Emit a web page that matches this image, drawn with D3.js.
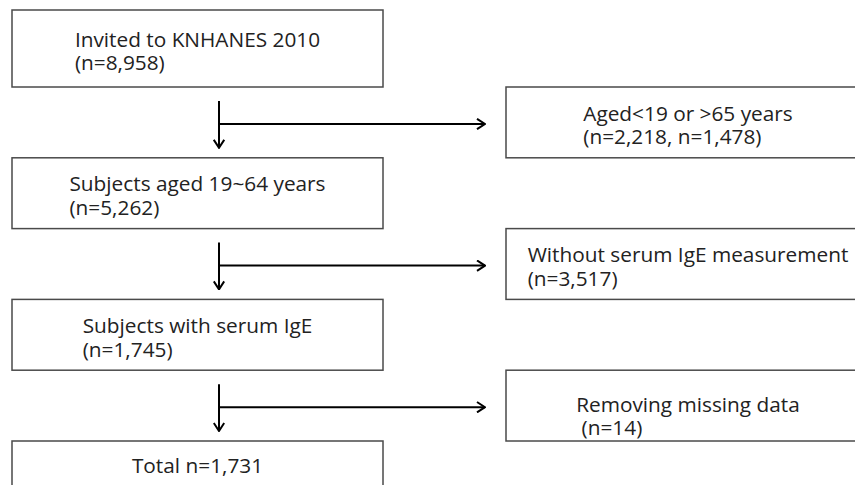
<!DOCTYPE html>
<html>
<head>
<meta charset="utf-8">
<script src="https://cdn.jsdelivr.net/npm/d3@7"></script>
<style>
  body { margin: 0; background: #fff; }
  svg { display: block; }
</style>
</head>
<body>
<div id="chart-area"></div>
<script>
// flow steps (left column) and exclusions (right column)
var steps = [
    ["Invited to KNHANES 2010", "(n=8,958)"],
    ["Subjects aged 19~64 years", "(n=5,262)"],
    ["Subjects with serum IgE", "(n=1,745)"],
    ["Total n=1,731"]
];
var excluded = [
    ["Aged<19 or >65 years", "(n=2,218, n=1,478)"],
    ["Without serum IgE measurement", "(n=3,517)"],
    ["Removing missing data", " (n=14)"]
];

var width = 855, height = 485;
var margins = { left: 12, top: 10 };

var svg = d3.select("#chart-area")
    .append("svg")
    .attr("width", width)
    .attr("height", height);

// slot 0..6 alternate left / right boxes going down
var y = d3.scaleLinear().domain([1, 6]).range([87, 441]);
var step = y(1) - y(0);

var leftX = d3.scaleLinear().domain([0, 1]).range([margins.left, 383]);
var rightX = d3.scaleLinear().domain([0, 1]).range([506, 870]);
var arrowX = 219, arrowEnd = 485;

var defs = svg.append("defs");
defs.append("marker")
    .attr("id", "head")
    .attr("viewBox", "0 0 10 12")
    .attr("refX", 9)
    .attr("refY", 6)
    .attr("markerWidth", 10)
    .attr("markerHeight", 12)
    .attr("markerUnits", "userSpaceOnUse")
    .attr("orient", "auto")
    .append("path")
    .attr("d", "M1,0.8 L9,6 L1,11.2")
    .attr("fill", "none")
    .attr("stroke", "#000")
    .attr("stroke-width", 2);

var lineGap = 23.5;

function drawBox(lines, x0, x1, top, bottom, nudge) {
    svg.append("rect")
        .attr("x", x0)
        .attr("y", top)
        .attr("width", x1 - x0)
        .attr("height", bottom - top)
        .attr("fill", "#fff")
        .attr("stroke", "#4a4a4a")
        .attr("stroke-width", 1.5);

    var g = svg.append("g");
    var mid = (top + bottom) / 2;
    var first = lines.length == 1 ? top + 32 : mid + 10 - lineGap / 2;
    var texts = g.selectAll("text")
        .data(lines)
        .enter()
        .append("text")
        .attr("y", function(d, i) { return first + nudge + i * lineGap; })
        .attr("font-family", "'Open Sans', 'Noto Sans', sans-serif")
        .attr("font-size", "20.8px")
        .attr("fill", "#222")
        .style("white-space", "pre")
        .text(function(d) { return d; });

    // lines are left aligned, the block is centred in the box
    var w = d3.max(texts.nodes(), function(n) { return n.getComputedTextLength(); });
    texts.attr("x", (x0 + x1) / 2 - w / 2);
}

steps.forEach(function(lines, i) {
    var top = i == 0 ? margins.top : y(i * 2);
    var bottom = i == 0 ? y(1) : y(i * 2) + step;
    drawBox(lines, leftX(0), leftX(1), top, bottom, 0);
});

excluded.forEach(function(lines, i) {
    var top = y(i * 2 + 1);
    drawBox(lines, rightX(0), rightX(1), top, top + step, i == 2 ? 8 : 0);

    // arrows: down to next step, side branch to the exclusion box
    svg.append("line")
        .attr("x1", arrowX).attr("x2", arrowX)
        .attr("y1", top + 14)
        .attr("y2", y(i * 2 + 2) - 10)
        .attr("stroke", "#000")
        .attr("stroke-width", 2)
        .attr("marker-end", "url(#head)");

    svg.append("line")
        .attr("x1", arrowX).attr("x2", arrowEnd)
        .attr("y1", top + 37)
        .attr("y2", top + 37)
        .attr("stroke", "#000")
        .attr("stroke-width", 2)
        .attr("marker-end", "url(#head)");
});
</script>
</body>
</html>
